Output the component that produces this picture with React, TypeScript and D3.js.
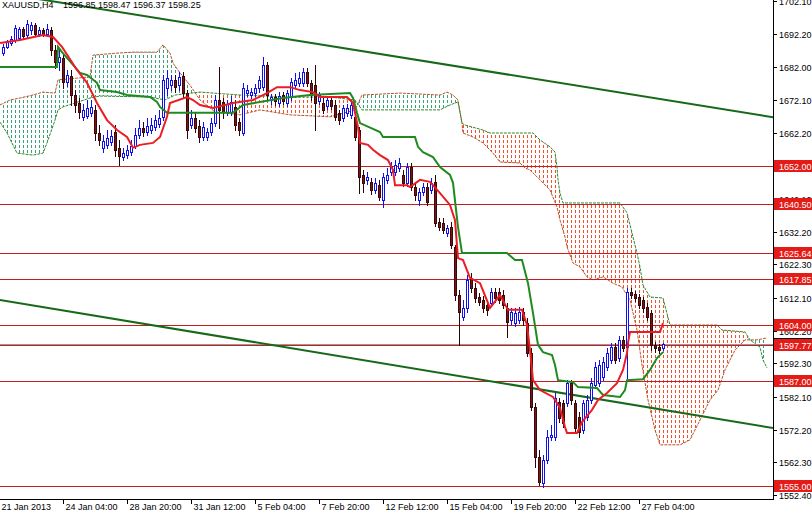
import { useEffect, useRef } from 'react';
import * as d3 from 'd3';

type Pt = [number, number];

// open, high, low, close for every 4H bar
const candles: [number, number, number, number][] = [
  [1686.3, 1689.1, 1685.7, 1688.2], [1688.2, 1690.3, 1687.9, 1689.7], [1689.4, 1691.5, 1688.8, 1690.6],
  [1690.3, 1694.8, 1689.7, 1693.9], [1690.9, 1694.2, 1690.3, 1693.6], [1693.6, 1694.2, 1690.9, 1691.5],
  [1691.8, 1696.3, 1691.2, 1695.1], [1693.3, 1695.7, 1692.1, 1694.8], [1694.8, 1695.4, 1691.5, 1692.1],
  [1692.1, 1694.2, 1691.5, 1693.3], [1693.3, 1693.9, 1691.5, 1692.1], [1692.1, 1695.1, 1691.5, 1693.6],
  [1693.3, 1694.2, 1685.7, 1687.2], [1687.2, 1688.8, 1681.8, 1683.6], [1683.6, 1687.2, 1681.2, 1685.1],
  [1684.8, 1685.7, 1675.7, 1677.6], [1677.6, 1681.2, 1676.3, 1679.7], [1679.4, 1681.2, 1670.6, 1673.6],
  [1673.6, 1675.1, 1668.5, 1670.6], [1671.2, 1672.7, 1666.6, 1668.5], [1667.0, 1670.9, 1666.0, 1669.1],
  [1667.3, 1672.1, 1666.6, 1669.7], [1668.2, 1672.1, 1667.3, 1670.0], [1669.1, 1670.6, 1660.0, 1662.1],
  [1662.1, 1664.5, 1658.5, 1660.0], [1657.6, 1661.5, 1656.3, 1659.7], [1658.5, 1663.0, 1657.6, 1660.6],
  [1659.4, 1663.0, 1658.5, 1661.2], [1662.4, 1664.5, 1655.1, 1657.0], [1657.6, 1660.0, 1652.4, 1655.1],
  [1654.8, 1657.6, 1653.9, 1656.0], [1655.4, 1658.5, 1654.5, 1657.0], [1656.3, 1660.0, 1655.4, 1658.2],
  [1658.2, 1663.6, 1657.6, 1661.5], [1661.5, 1666.0, 1660.6, 1663.6], [1663.6, 1665.4, 1661.2, 1662.4],
  [1662.4, 1666.6, 1661.5, 1664.2], [1663.0, 1666.6, 1662.1, 1664.5], [1663.9, 1667.6, 1663.0, 1666.0],
  [1664.8, 1669.1, 1663.9, 1666.6], [1667.0, 1679.7, 1666.0, 1678.2], [1675.7, 1681.2, 1673.6, 1678.8],
  [1676.6, 1679.7, 1675.1, 1678.2], [1678.2, 1679.7, 1674.5, 1676.0], [1676.6, 1680.6, 1675.1, 1679.1],
  [1679.4, 1680.6, 1673.0, 1674.2], [1674.2, 1675.1, 1660.6, 1663.0], [1664.5, 1669.1, 1663.6, 1666.6],
  [1666.6, 1668.5, 1662.4, 1663.6], [1664.2, 1666.0, 1659.4, 1660.9], [1660.9, 1665.4, 1660.0, 1663.9],
  [1660.9, 1663.6, 1660.0, 1662.4], [1662.4, 1666.6, 1661.5, 1665.1], [1665.1, 1673.6, 1664.2, 1672.1],
  [1672.1, 1682.1, 1663.6, 1669.1], [1671.5, 1672.7, 1666.6, 1668.5], [1668.5, 1672.1, 1667.6, 1670.9],
  [1668.5, 1673.3, 1667.6, 1671.5], [1670.0, 1672.1, 1663.0, 1664.5], [1665.4, 1666.6, 1661.5, 1663.0],
  [1662.1, 1677.3, 1661.5, 1675.7], [1674.2, 1676.6, 1673.3, 1675.1], [1673.6, 1675.7, 1672.7, 1674.5],
  [1674.2, 1677.0, 1673.3, 1675.7], [1675.7, 1679.4, 1674.5, 1678.2], [1676.0, 1685.1, 1675.1, 1682.7],
  [1682.7, 1683.6, 1672.1, 1673.6], [1672.1, 1673.9, 1670.9, 1673.0], [1673.0, 1673.9, 1670.6, 1671.8],
  [1671.2, 1674.5, 1670.3, 1673.3], [1673.6, 1674.5, 1670.9, 1671.8], [1671.2, 1675.1, 1670.3, 1674.2],
  [1673.0, 1678.8, 1672.1, 1677.6], [1676.6, 1680.3, 1675.7, 1678.2], [1677.3, 1680.6, 1676.3, 1678.8],
  [1677.3, 1681.8, 1676.3, 1680.6], [1680.6, 1681.8, 1676.3, 1677.3], [1677.3, 1678.2, 1672.1, 1673.6],
  [1676.6, 1682.7, 1663.0, 1671.2], [1671.8, 1674.5, 1670.9, 1673.6], [1671.2, 1672.7, 1668.2, 1669.1],
  [1670.3, 1673.3, 1669.4, 1672.1], [1672.1, 1673.0, 1669.4, 1670.3], [1670.6, 1672.1, 1666.0, 1667.0],
  [1668.2, 1669.1, 1664.8, 1666.0], [1666.6, 1670.6, 1665.7, 1669.7], [1668.2, 1670.9, 1667.3, 1669.7],
  [1667.6, 1672.1, 1666.6, 1670.6], [1667.0, 1668.5, 1660.0, 1660.9], [1663.0, 1663.9, 1643.9, 1648.8],
  [1649.4, 1650.9, 1644.2, 1647.0], [1647.9, 1650.3, 1646.6, 1648.8], [1647.3, 1648.5, 1643.6, 1644.8],
  [1644.8, 1648.5, 1643.9, 1647.0], [1646.3, 1647.9, 1641.8, 1642.7], [1641.8, 1650.0, 1639.7, 1648.8],
  [1647.9, 1651.5, 1647.0, 1649.4], [1650.3, 1653.3, 1649.4, 1652.1], [1650.3, 1653.9, 1649.4, 1652.4],
  [1651.5, 1654.5, 1650.6, 1653.0], [1649.4, 1650.9, 1646.0, 1647.0], [1647.0, 1653.0, 1646.0, 1651.8],
  [1651.8, 1653.0, 1644.8, 1645.7], [1645.7, 1647.0, 1641.8, 1643.3], [1641.8, 1645.4, 1640.3, 1644.2],
  [1644.2, 1647.0, 1643.3, 1645.7], [1645.7, 1647.0, 1640.3, 1641.2], [1644.8, 1648.5, 1643.9, 1647.0],
  [1647.3, 1649.4, 1633.9, 1634.8], [1635.1, 1636.3, 1632.7, 1633.6], [1634.8, 1636.3, 1631.8, 1632.7],
  [1631.8, 1634.2, 1630.9, 1633.3], [1633.6, 1635.1, 1627.3, 1628.2], [1627.6, 1628.2, 1611.5, 1613.0],
  [1613.0, 1614.5, 1597.9, 1607.8], [1606.3, 1611.5, 1605.4, 1609.1], [1609.1, 1619.1, 1607.8, 1617.6],
  [1618.2, 1619.7, 1613.9, 1615.1], [1615.1, 1616.6, 1610.9, 1612.1], [1612.4, 1613.6, 1610.0, 1610.9],
  [1611.5, 1612.7, 1607.8, 1609.1], [1610.0, 1611.5, 1606.9, 1608.5], [1610.6, 1615.1, 1609.7, 1613.9],
  [1613.9, 1615.1, 1610.9, 1612.1], [1613.9, 1615.1, 1610.6, 1611.5], [1613.0, 1614.5, 1609.1, 1610.0],
  [1609.1, 1610.6, 1600.3, 1604.8], [1605.4, 1609.1, 1604.2, 1607.8], [1604.5, 1609.1, 1603.6, 1607.5],
  [1605.4, 1609.4, 1604.5, 1607.8], [1607.8, 1609.1, 1603.9, 1605.4], [1604.5, 1606.0, 1594.5, 1595.4],
  [1595.4, 1596.9, 1578.2, 1579.1], [1579.1, 1580.3, 1560.9, 1563.9], [1563.9, 1566.0, 1555.4, 1556.3],
  [1556.0, 1564.5, 1554.8, 1563.0], [1563.0, 1572.1, 1562.1, 1570.0], [1570.0, 1573.6, 1569.1, 1570.6],
  [1570.0, 1583.3, 1569.1, 1581.8], [1580.6, 1581.8, 1574.5, 1575.7], [1580.3, 1581.2, 1573.0, 1574.2],
  [1580.3, 1587.2, 1579.4, 1586.3], [1586.3, 1587.2, 1580.0, 1581.2], [1580.3, 1581.2, 1571.5, 1572.7],
  [1576.0, 1577.6, 1570.0, 1571.5], [1572.1, 1581.2, 1571.2, 1580.3], [1576.0, 1582.7, 1575.1, 1581.2],
  [1581.2, 1587.9, 1580.3, 1586.3], [1585.7, 1592.7, 1584.8, 1591.2], [1586.3, 1593.3, 1585.4, 1591.8],
  [1588.2, 1594.2, 1587.2, 1592.7], [1591.2, 1596.9, 1590.3, 1595.4], [1593.3, 1598.5, 1592.4, 1597.2],
  [1597.2, 1598.5, 1592.4, 1593.3], [1593.9, 1600.6, 1593.0, 1599.4], [1599.4, 1600.6, 1596.0, 1596.9],
  [1597.2, 1615.1, 1587.9, 1613.9], [1613.9, 1615.1, 1612.1, 1613.0], [1613.3, 1614.2, 1611.2, 1612.1],
  [1612.4, 1613.3, 1609.1, 1610.0], [1611.5, 1612.4, 1607.8, 1609.1], [1609.4, 1610.6, 1605.4, 1606.3],
  [1607.5, 1608.5, 1596.3, 1597.9], [1597.9, 1598.8, 1595.7, 1596.9], [1597.2, 1598.2, 1595.4, 1596.3],
  [1596.85, 1598.47, 1596.37, 1598.25],
];

// [bar, price] points
const tenkan: Pt[] = [
  [-0.75, 1689.4], [4.25, 1690.3], [10, 1691.8], [12.5, 1691.2], [14.75, 1688.2], [18.5, 1681.2],
  [21, 1677.3], [23.5, 1671.2], [26, 1666.0], [28.5, 1663.0], [31, 1660.9], [32.5, 1657.6],
  [34.25, 1658.5], [37.5, 1659.1], [39.25, 1660.9], [41, 1667.0], [41.75, 1671.2], [46, 1673.0],
  [47.5, 1672.1], [49.25, 1670.6], [52.5, 1669.7], [57.5, 1671.2], [62.5, 1672.1], [66, 1674.2],
  [68.5, 1676.0], [71.75, 1676.0], [74.25, 1675.1], [77.5, 1674.5], [79.25, 1673.0], [86, 1673.0],
  [87.5, 1671.2], [88.75, 1663.9], [89.25, 1659.1], [91.25, 1658.5], [92.5, 1657.0], [94.25, 1655.4],
  [96.25, 1653.9], [97.5, 1650.9], [98, 1646.3], [101, 1646.3], [101.75, 1645.7], [104.25, 1647.9],
  [106.75, 1647.3], [109.25, 1643.9], [111.75, 1640.3], [113, 1635.7], [113.75, 1624.2], [115, 1623.6],
  [116.75, 1618.2], [119.25, 1616.6], [121.75, 1609.1], [124.25, 1613.0], [126.25, 1608.5], [129.75, 1608.5],
  [131, 1603.9], [131.75, 1596.3], [132.5, 1587.2], [134.25, 1584.2], [137.5, 1582.1], [139.25, 1578.8],
  [140.5, 1573.0], [141, 1571.2], [143.5, 1571.2], [144.75, 1574.5], [147.25, 1578.2], [148.75, 1581.2],
  [151, 1583.3], [153.5, 1586.3], [155, 1590.3], [156, 1595.4], [156.25, 1598.5], [156.75, 1601.8],
  [164.25, 1601.8], [165, 1604.5],
];

const kijun: Pt[] = [
  [-0.75, 1682.1], [13.5, 1682.1], [13.75, 1688.2], [14.75, 1686.6], [19.25, 1680.3], [21, 1679.7],
  [23.5, 1677.3], [24.25, 1675.1], [28.5, 1674.5], [31, 1673.6], [36.75, 1673.0], [38.5, 1671.5],
  [39.25, 1670.0], [41, 1668.2], [57.5, 1668.2], [60, 1670.6], [70, 1672.7], [76.75, 1673.6],
  [86.75, 1674.2], [87.5, 1672.7], [88.5, 1668.2], [89.25, 1665.1], [94.25, 1662.4], [95, 1660.9],
  [103, 1660.9], [103.75, 1657.9], [105, 1656.3], [107.5, 1654.8], [109.25, 1651.8], [111.75, 1649.4],
  [112.5, 1647.0], [113.75, 1633.6], [114.75, 1625.7], [126, 1625.7], [128, 1623.6], [129.75, 1623.6],
  [131.25, 1616.6], [132.5, 1607.5], [133.75, 1597.9], [135, 1595.7], [137.25, 1594.8], [138, 1591.8],
  [138.75, 1587.2], [142.5, 1586.6], [143.75, 1585.1], [148.5, 1584.8], [150, 1582.7], [154.25, 1582.1],
  [155.5, 1584.2], [156, 1587.2], [160, 1587.5], [161.75, 1590.3], [163.5, 1593.9], [165, 1595.7],
];

const spanA: Pt[] = [
  [-0.75, 1670.6], [1.75, 1672.1], [4.25, 1672.7], [7.5, 1673.6], [10, 1674.5], [13, 1674.2],
  [13.75, 1678.2], [21.75, 1679.1], [22.5, 1685.7], [28.5, 1686.3], [32.5, 1686.6], [38.5, 1686.6],
  [40, 1688.8], [41.75, 1686.3], [42.5, 1683.3], [44.25, 1680.3], [46.75, 1676.6], [49.25, 1672.1],
  [53, 1668.5], [59.25, 1667.6], [64.25, 1669.1], [71.75, 1667.6], [81.75, 1667.0], [88, 1669.1],
  [89.75, 1673.6], [99.25, 1674.2], [109.25, 1673.6], [111, 1674.5], [112.5, 1673.6], [113.75, 1672.1],
  [114.75, 1665.1], [115, 1662.1], [117.5, 1660.9], [120, 1659.1], [122.5, 1656.0], [124.25, 1653.3],
  [129.25, 1653.0], [130.5, 1651.5], [131.75, 1650.9], [133.5, 1648.8], [135, 1647.0], [136.75, 1644.8],
  [138.5, 1639.7], [139.25, 1635.7], [140.5, 1630.6], [141, 1627.6], [142.5, 1622.7], [144.25, 1621.5],
  [146, 1618.5], [147.5, 1617.6], [150, 1618.5], [152.5, 1616.6], [154.75, 1615.4], [156.75, 1611.5],
  [158.5, 1602.4], [159.75, 1591.8], [161.25, 1581.2], [163, 1572.1], [164.25, 1567.6], [169.25, 1567.6],
  [171.75, 1569.1], [174.25, 1575.1], [176.75, 1581.2], [178.75, 1584.2], [180.5, 1590.3], [183, 1596.3],
  [185.5, 1599.4], [188.5, 1599.4], [191, 1600.0],
];

const spanB: Pt[] = [
  [-0.75, 1665.4], [1, 1662.1], [3.5, 1656.0], [7.5, 1655.4], [10, 1656.0], [11, 1659.1],
  [13, 1666.0], [13.75, 1669.1], [15, 1670.0], [21.75, 1672.7], [24.25, 1673.3], [36.75, 1673.0],
  [40.5, 1672.1], [43, 1673.6], [49.25, 1674.5], [59.25, 1673.6], [71.75, 1673.0], [81.75, 1673.0],
  [88, 1672.1], [89.75, 1669.1], [109.25, 1669.1], [111.75, 1670.6], [113.75, 1671.5], [114.75, 1665.1],
  [115.5, 1664.5], [120, 1663.0], [121.75, 1662.1], [132.5, 1662.1], [134.25, 1660.0], [136.75, 1657.9],
  [138, 1656.3], [138.5, 1651.8], [138.75, 1647.9], [139.25, 1643.9], [140, 1640.9], [154.25, 1640.9],
  [156, 1637.9], [157.25, 1631.8], [158.5, 1625.7], [159.25, 1621.5], [160, 1616.0], [161.75, 1612.4],
  [165, 1612.1], [166.75, 1603.9], [178.5, 1603.9], [179.75, 1602.4], [185.5, 1601.8], [186.75, 1599.4],
  [189.25, 1597.2], [190, 1593.3], [191, 1590.9],
];

const upperTrend: Pt[] = [[15, 1701.5], [192.5, 1666.9]];
const lowerTrend: Pt[] = [[-0.75, 1611.5], [192.5, 1572.7]];

const levels = [1652.0, 1640.5, 1625.64, 1617.85, 1604.0, 1597.77, 1587.0, 1555.0];
const bidPrice = 1598.25;

const priceTicks = [1702.1, 1692.2, 1682.0, 1672.1, 1662.2, 1642.1, 1632.2, 1622.3, 1612.1,
  1602.2, 1592.3, 1582.1, 1572.2, 1562.3, 1552.4];

const timeLabels = ['21 Jan 2013', '24 Jan 04:00', '28 Jan 20:00', '31 Jan 12:00', '5 Feb 04:00',
  '7 Feb 20:00', '12 Feb 12:00', '15 Feb 04:00', '19 Feb 20:00', '22 Feb 12:00', '27 Feb 04:00'];
const timeLabelBars = [-1, 15, 31, 47, 63, 79, 95, 111, 127, 143, 159];

const W = 812;
const H = 514;
const plotR = 773;
const plotB = 499;
const font = '"Liberation Sans", Arial, sans-serif';

const App = () => {
  const svgRef = useRef<SVGSVGElement>(null);

  useEffect(() => {
    if (!svgRef.current) return;
    const svg = d3.select(svgRef.current);
    svg.selectAll('*').remove();

    const x = d3.scaleLinear().domain([0, 192.5]).range([3, plotR]);
    const y = d3.scaleLinear().domain([1552.4, 1702.1]).range([495, 1]);
    const fmt = d3.format('.2f');

    const defs = svg.append('defs');
    defs.append('clipPath').attr('id', 'plot')
      .append('rect').attr('x', 0).attr('y', 0).attr('width', plotR).attr('height', plotB);

    const below = d3.area<Pt>().x(d => x(d[0])).y0(d => y(d[1])).y1(plotB + 50);
    const above = d3.area<Pt>().x(d => x(d[0])).y0(-50).y1(d => y(d[1]));
    defs.append('clipPath').attr('id', 'belowA').append('path').attr('d', below(spanA));
    defs.append('clipPath').attr('id', 'aboveA').append('path').attr('d', above(spanA));
    defs.append('clipPath').attr('id', 'belowB').append('path').attr('d', below(spanB));
    defs.append('clipPath').attr('id', 'aboveB').append('path').attr('d', above(spanB));

    svg.append('rect').attr('width', W).attr('height', H).attr('fill', '#ffffff');

    const plot = svg.append('g').attr('clip-path', 'url(#plot)');

    // cloud hatching: one dotted column per bar, green where span A is on top, red where span B is
    const cols = d3.range(-1, 193);
    const hatch = (outer: string, inner: string, color: string) => {
      plot.append('g').attr('clip-path', `url(#${outer})`)
        .append('g').attr('clip-path', `url(#${inner})`)
        .selectAll('line').data(cols).enter().append('line')
        .attr('x1', b => Math.round(x(b)) + 0.5).attr('x2', b => Math.round(x(b)) + 0.5)
        .attr('y1', 0).attr('y2', plotB)
        .attr('stroke', color).attr('stroke-width', 1).attr('stroke-dasharray', '3,2');
    };
    hatch('belowA', 'aboveB', '#3aa07a');
    hatch('belowB', 'aboveA', '#f0502a');

    const line = d3.line<Pt>().x(d => x(d[0])).y(d => y(d[1]));

    plot.append('path').attr('d', line(spanA)).attr('fill', 'none')
      .attr('stroke', '#b5552e').attr('stroke-width', 1).attr('stroke-dasharray', '3,1');
    plot.append('path').attr('d', line(spanB)).attr('fill', 'none')
      .attr('stroke', '#2f8a2f').attr('stroke-width', 1).attr('stroke-dasharray', '3,1');

    // horizontal levels and the bid line
    plot.append('line').attr('x1', 0).attr('x2', plotR)
      .attr('y1', Math.round(y(bidPrice)) + 0.5).attr('y2', Math.round(y(bidPrice)) + 0.5)
      .attr('stroke', '#9a9a9a');
    plot.selectAll('line.level').data(levels).enter().append('line')
      .attr('class', 'level')
      .attr('x1', 0).attr('x2', plotR)
      .attr('y1', d => Math.round(y(d)) + 0.5).attr('y2', d => Math.round(y(d)) + 0.5)
      .attr('stroke', '#c41f1f').attr('stroke-width', 1);

    // trend channel, extended across the plot
    const extend = (t: Pt[]) => {
      const [[b0, p0], [b1, p1]] = t;
      const at = (b: number) => p0 + (p1 - p0) * (b - b0) / (b1 - b0);
      return [[-2, at(-2)], [194, at(194)]] as Pt[];
    };
    [upperTrend, lowerTrend].forEach(t => {
      plot.append('path').attr('d', line(extend(t))).attr('fill', 'none')
        .attr('stroke', '#17691a').attr('stroke-width', 2);
    });

    // candles
    const bars = plot.append('g');
    candles.forEach(([o, h, l, c], i) => {
      const cx = Math.round(x(i));
      const up = c >= o;
      bars.append('line')
        .attr('x1', cx + 0.5).attr('x2', cx + 0.5)
        .attr('y1', Math.round(y(h))).attr('y2', Math.round(y(l)) + 1)
        .attr('stroke', up ? '#1010ee' : '#2a0505');
      const top = Math.round(y(Math.max(o, c)));
      const bot = Math.round(y(Math.min(o, c)));
      bars.append('rect')
        .attr('x', cx - 0.5).attr('y', top + 0.5)
        .attr('width', 2).attr('height', Math.max(1, bot - top))
        .attr('fill', up ? '#ffffff' : '#7d1414')
        .attr('stroke', up ? '#1010ee' : '#3a0808').attr('stroke-width', 1);
    });

    plot.append('path').attr('d', line(kijun)).attr('fill', 'none')
      .attr('stroke', '#1f8a1f').attr('stroke-width', 2);
    plot.append('path').attr('d', line(tenkan)).attr('fill', 'none')
      .attr('stroke', '#ec1c24').attr('stroke-width', 2);

    // axes
    svg.append('line').attr('x1', plotR + 0.5).attr('x2', plotR + 0.5).attr('y1', 0).attr('y2', plotB + 1)
      .attr('stroke', '#000');
    svg.append('line').attr('x1', 0).attr('x2', plotR + 1).attr('y1', plotB + 0.5).attr('y2', plotB + 0.5)
      .attr('stroke', '#000');

    const pAxis = svg.append('g').attr('font-family', font).attr('font-size', 9);
    priceTicks.forEach(t => {
      const ty = Math.round(y(t)) + 0.5;
      pAxis.append('line').attr('x1', plotR).attr('x2', plotR + 4).attr('y1', ty).attr('y2', ty).attr('stroke', '#000');
      pAxis.append('text').attr('x', 779).attr('y', ty + 3.5).attr('fill', '#000').text(fmt(t));
    });

    const tAxis = svg.append('g').attr('font-family', font).attr('font-size', 9);
    timeLabels.forEach((lab, k) => {
      const tx = Math.round(x(timeLabelBars[k])) + 0.5;
      tAxis.append('line').attr('x1', tx).attr('x2', tx).attr('y1', plotB).attr('y2', plotB + 5).attr('stroke', '#000');
      tAxis.append('text').attr('x', Math.max(1, tx + 2)).attr('y', 510).attr('fill', '#000').text(lab);
    });

    // price boxes on the right scale
    const box = (p: number, fill: string) => {
      const by = Math.round(y(p));
      pAxis.append('rect').attr('x', plotR + 1).attr('y', by - 6).attr('width', W - plotR - 1).attr('height', 12)
        .attr('fill', fill);
      pAxis.append('text').attr('x', 779).attr('y', by + 3.5).attr('fill', '#fff').text(fmt(p));
    };
    box(bidPrice, '#000000');
    levels.forEach(l => box(l, '#e41b17'));

    const head = svg.append('g').attr('font-family', font).attr('font-size', 9).attr('fill', '#000');
    head.append('text').attr('x', 2).attr('y', 8).text('XAUUSD,H4');
    head.append('text').attr('x', 63).attr('y', 8)
      .text(candles[candles.length - 1].map(v => fmt(v)).join(' '));
  }, []);

  return (
    <svg ref={svgRef} width={W} height={H}
      style={{ position: 'absolute', left: 0, top: 0, display: 'block' }} />
  );
};

export default App;
